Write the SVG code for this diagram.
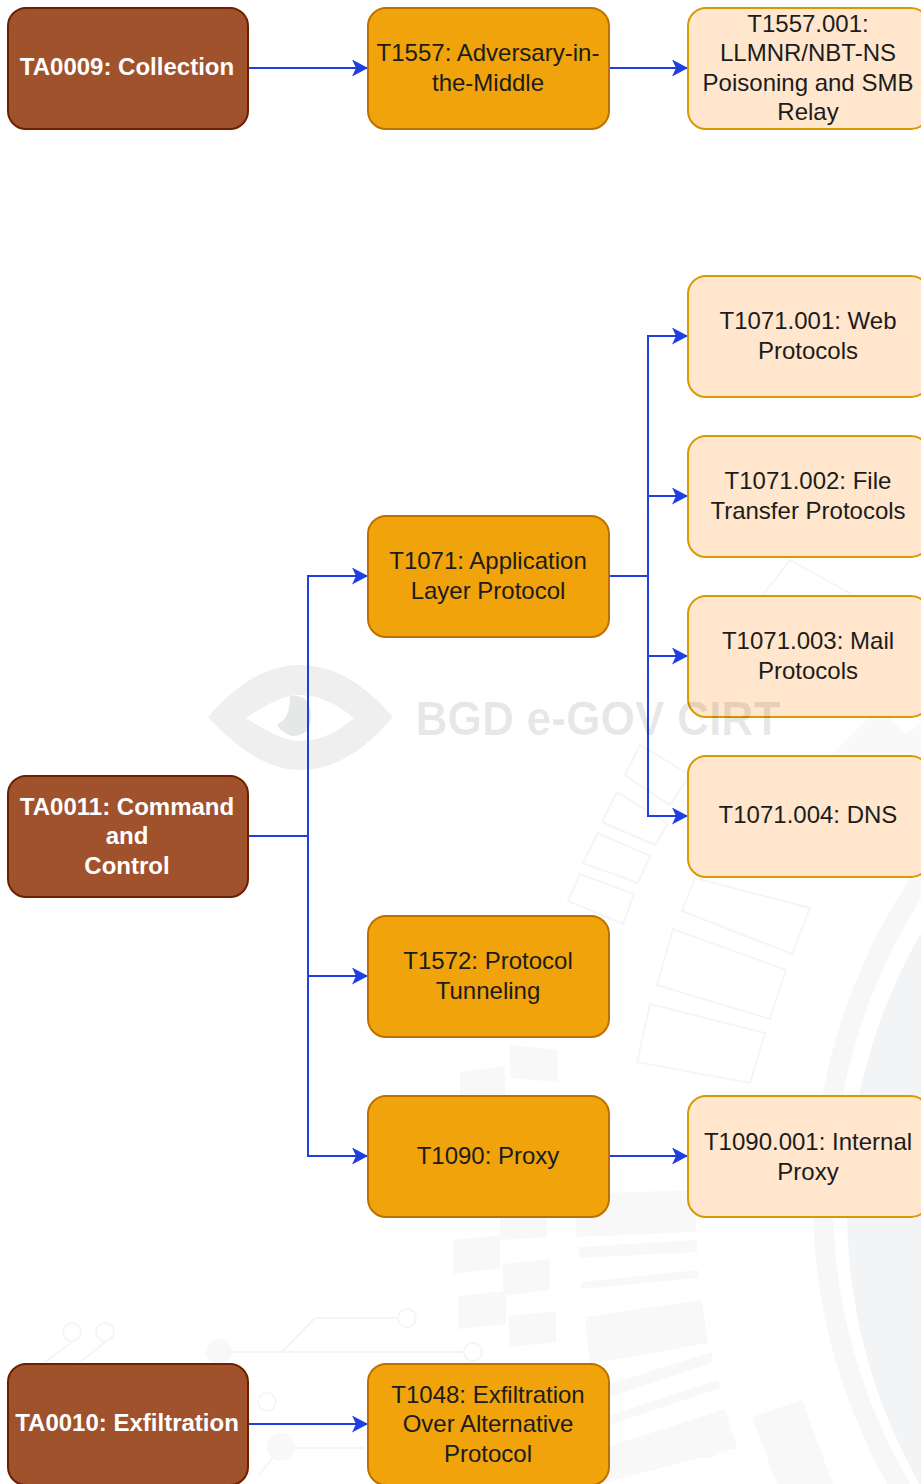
<svg xmlns="http://www.w3.org/2000/svg" width="921" height="1484" viewBox="0 0 921 1484">
<style>
.n{stroke-width:2}
.b{fill:#a0522d;stroke:#6d1f00}
.o{fill:#f0a30a;stroke:#bd7000}
.p{fill:#ffe6cc;stroke:#d79b00}
text{font-family:"Liberation Sans",Arial,sans-serif;font-size:24px;text-anchor:middle;fill:#1c1c1c}
.w{fill:#fff;font-weight:bold}
.c{fill:none;stroke:#1f3fe0;stroke-width:2;shape-rendering:crispEdges}
.wm{fill:none;stroke:#f5f5f5;stroke-width:2}
.wf{fill:#f8f8f8}
</style>
<defs>
<marker id="a" markerUnits="userSpaceOnUse" markerWidth="18" markerHeight="17" refX="17" refY="8.5" orient="auto" viewBox="0 0 18 17"><path d="M1 0L17 8.5L1 17L5 8.5Z" fill="#1f3fe0"/></marker>
</defs>
<rect width="921" height="1484" fill="#fff"/>
<g id="watermark">
<path d="M208 717C240 680 270 665 300 665C335 665 365 685 393 717C365 750 335 770 300 770C270 770 240 752 208 717Z" fill="#efefef"/>
<path d="M246 718C270 702 285 695 300 695C320 695 338 705 354 718C338 732 320 741 300 741C285 741 270 733 246 718Z" fill="#fff"/>
<path d="M290 696Q311 694 311 716Q311 736 292 736Q280 732 277 724Q290 720 290 696Z" fill="#e6e8e8"/>
<circle cx="1402" cy="1210" r="555" fill="#f3f4f5"/>
<circle cx="1393" cy="1200" r="570" fill="none" stroke="#f7f7f8" stroke-width="20"/>
<path d="M830 756L880 706L905 735L921 722L921 756Z" fill="#f9f9f9"/>
<g class="wm">
<path d="M602 822L617 792L668 824L655 845Z"/>
<path d="M583 863L598 833L650 856L638 883Z"/>
<path d="M568 901L580 874L634 894L623 924Z"/>
<path d="M682 911L695 878L810 908L792 954Z"/>
<path d="M657 985L673 929L786 970L770 1019Z"/>
<path d="M637 1062L650 1004L765 1033L750 1083Z"/>
<path d="M625 775L640 745L690 775L670 805Z"/>
<path d="M762 596L790 560L855 596L830 636Z"/>
<path d="M44 1363L72 1342M79 1363L105 1342"/>
<circle cx="72" cy="1332" r="9"/><circle cx="105" cy="1332" r="9"/>
<path d="M282 1352L315 1318L398 1318"/><circle cx="407" cy="1318" r="9"/>
<path d="M230 1352L464 1352"/><circle cx="473" cy="1352" r="9"/>
<circle cx="267" cy="1402" r="9"/>
<path d="M294 1448L365 1448M258 1476L281 1447"/>
<path d="M620 1448L700 1448"/><circle cx="708" cy="1448" r="9"/>
</g>
<g class="wf">
<circle cx="219" cy="1352" r="13"/><circle cx="281" cy="1447" r="14"/><circle cx="658" cy="1448" r="14" fill="#f0f0f1"/>
<path d="M460 1072L505 1066L505 1100L460 1106Z"/><path d="M510 1045L558 1050L558 1082L510 1078Z"/>
<path d="M500 1218L547 1216L547 1237L500 1240Z"/>
<path d="M453 1240L500 1235L500 1268L453 1274Z"/><path d="M503 1264L550 1259L550 1290L503 1296Z"/>
<path d="M458 1296L506 1291L506 1324L458 1329Z"/><path d="M509 1316L556 1311L556 1342L509 1347Z"/>
<path d="M576 1194L696 1190L696 1232L576 1237Z"/><path d="M579 1247L697 1240L697 1252L579 1258Z"/>
<path d="M581 1282L698 1270L698 1278L581 1289Z"/><path d="M585 1317L702 1300L708 1343L590 1364Z"/>
<path d="M590 1390L712 1352L712 1363L595 1402Z"/>
<path d="M595 1420L718 1380L720 1388L600 1428Z"/>
<path d="M595 1451L725 1409L737 1448L600 1484Z"/>
<path d="M752 1417L802 1400L833 1484L777 1484Z"/>
<path d="M500 1484L530 1470L530 1484Z"/>
</g>
</g>
<g id="connectors">
<path class="c" d="M249 68H368" marker-end="url(#a)"/>
<path class="c" d="M610 68H688" marker-end="url(#a)"/>
<path class="c" d="M249 836H308V576H368" marker-end="url(#a)"/>
<path class="c" d="M249 836H308V976H368" marker-end="url(#a)"/>
<path class="c" d="M249 836H308V1156H368" marker-end="url(#a)"/>
<path class="c" d="M610 576H648V336H688" marker-end="url(#a)"/>
<path class="c" d="M610 576H648V496H688" marker-end="url(#a)"/>
<path class="c" d="M610 576H648V656H688" marker-end="url(#a)"/>
<path class="c" d="M610 576H648V816H688" marker-end="url(#a)"/>
<path class="c" d="M610 1156H688" marker-end="url(#a)"/>
<path class="c" d="M249 1424H368" marker-end="url(#a)"/>
</g>
<g id="ta0009"><rect class="n b" x="8" y="8" width="240" height="121" rx="18"/><text class="w" x="127" y="75">TA0009: Collection</text></g>
<g id="t1557"><rect class="n o" x="368" y="8" width="241" height="121" rx="18"/><text x="488" y="61">T1557: Adversary-in-</text><text x="488" y="91">the-Middle</text></g>
<g id="t1557-001"><rect class="n p" x="688" y="8" width="241" height="121" rx="18"/><text x="808" y="32">T1557.001:</text><text x="808" y="61">LLMNR/NBT-NS</text><text x="808" y="91">Poisoning and SMB</text><text x="808" y="120">Relay</text></g>
<g id="t1071-001"><rect class="n p" x="688" y="276" width="241" height="121" rx="18"/><text x="808" y="329">T1071.001: Web</text><text x="808" y="359">Protocols</text></g>
<g id="t1071-002"><rect class="n p" x="688" y="436" width="241" height="121" rx="18"/><text x="808" y="489">T1071.002: File</text><text x="808" y="519">Transfer Protocols</text></g>
<g id="t1071"><rect class="n o" x="368" y="516" width="241" height="121" rx="18"/><text x="488" y="569">T1071: Application</text><text x="488" y="599">Layer Protocol</text></g>
<g id="t1071-003"><rect class="n p" x="688" y="596" width="241" height="121" rx="18"/><text x="808" y="649">T1071.003: Mail</text><text x="808" y="679">Protocols</text></g>
<g id="t1071-004"><rect class="n p" x="688" y="756" width="241" height="121" rx="18"/><text x="808" y="823">T1071.004: DNS</text></g>
<g id="ta0011"><rect class="n b" x="8" y="776" width="240" height="121" rx="18"/><text class="w" x="127" y="815">TA0011: Command</text><text class="w" x="127" y="844">and</text><text class="w" x="127" y="874">Control</text></g>
<g id="t1572"><rect class="n o" x="368" y="916" width="241" height="121" rx="18"/><text x="488" y="969">T1572: Protocol</text><text x="488" y="999">Tunneling</text></g>
<g id="t1090"><rect class="n o" x="368" y="1096" width="241" height="121" rx="18"/><text x="488" y="1164">T1090: Proxy</text></g>
<g id="t1090-001"><rect class="n p" x="688" y="1096" width="241" height="121" rx="18"/><text x="808" y="1150">T1090.001: Internal</text><text x="808" y="1180">Proxy</text></g>
<g id="ta0010"><rect class="n b" x="8" y="1364" width="240" height="121" rx="18"/><text class="w" x="127" y="1431">TA0010: Exfiltration</text></g>
<g id="t1048"><rect class="n o" x="368" y="1364" width="241" height="121" rx="18"/><text x="488" y="1403">T1048: Exfiltration</text><text x="488" y="1432">Over Alternative</text><text x="488" y="1462">Protocol</text></g>
<text id="watermark-text" x="598" y="735" style="font-size:48px;font-weight:bold;fill:#000;fill-opacity:.09" textLength="365" lengthAdjust="spacingAndGlyphs">BGD e-GOV CIRT</text>
</svg>
